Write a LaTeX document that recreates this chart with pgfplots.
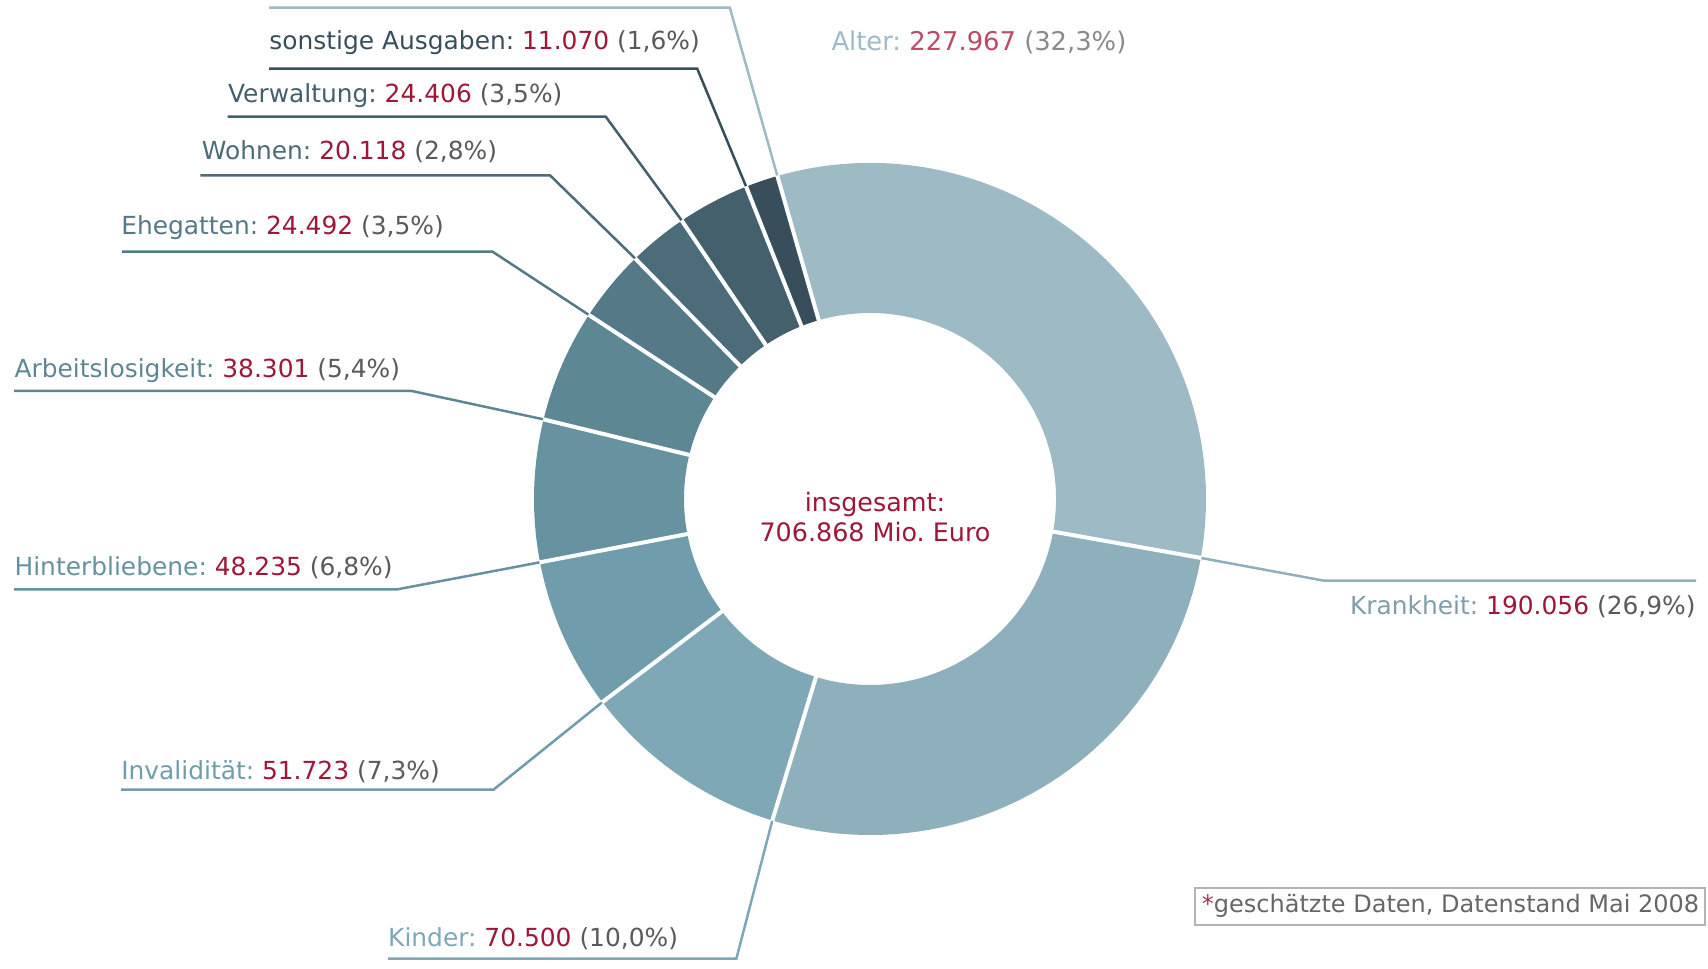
\documentclass[border=0pt]{standalone}
\usepackage{pgfplots}
\pgfplotsset{compat=1.18}
\usepackage{fontspec}
\setmainfont{DejaVu Sans}
\frenchspacing
\definecolor{s1}{HTML}{9DBAC5}
\definecolor{s2}{HTML}{8EB0BC}
\definecolor{s3}{HTML}{7FA8B6}
\definecolor{s4}{HTML}{6F9DAC}
\definecolor{s5}{HTML}{67929F}
\definecolor{s6}{HTML}{5E8794}
\definecolor{s7}{HTML}{557987}
\definecolor{s8}{HTML}{4B6C78}
\definecolor{s9}{HTML}{43606C}
\definecolor{s10}{HTML}{384F5B}
\definecolor{numred}{HTML}{9E1736}
\definecolor{pctgray}{HTML}{5A5A5A}
\definecolor{numredlight}{HTML}{BE4A64}
\definecolor{pctgraylight}{HTML}{8A8A8A}
\definecolor{boxgray}{HTML}{B4B4B4}
\definecolor{footgray}{HTML}{666666}
\definecolor{starred}{HTML}{B03050}
\begin{document}
\begin{tikzpicture}
\begin{axis}[x=0.5pt,y=0.5pt,xmin=0,xmax=1708,ymin=0,ymax=969,hide axis,clip=false]
\coordinate (LL) at (axis cs:0,0);
\coordinate (UR) at (axis cs:1708,969);
\def\cx{870}\def\cy{470}
\def\Ro{168pt}\def\Ri{93pt}
% slices: value (thousand Mio. Euro) / colour
\xdef\startang{106}
\foreach \v/\col in {227.967/s1, 190.056/s2, 70.500/s3, 51.723/s4, 48.235/s5, 38.301/s6, 24.492/s7, 20.118/s8, 24.406/s9, 11.070/s10} {
  \pgfmathsetmacro{\endang}{\startang-360*(\v/706.868)}
  \edef\temp{\noexpand\fill[\col] ([shift={(\startang:\Ro)}]axis cs:\cx,\cy) arc[start angle=\startang, end angle=\endang, radius=\Ro] -- ([shift={(\endang:\Ri)}]axis cs:\cx,\cy) arc[start angle=\endang, end angle=\startang, radius=\Ri] -- cycle;}
  \temp
  \xdef\startang{\endang}
}
% separators and leader lines: value / colour / line y / line end x / corner x
\xdef\startang{106}
\foreach \v/\col/\ly/\lx/\cornx in {227.967/s1/961.4/269/729.8, 190.056/s2/388.4/1696/1323.5, 70.500/s3/10.4/387.8/736.4, 51.723/s4/179.3/121/493.5, 48.235/s5/379.7/14.2/397.6, 38.301/s6/578/14.2/411.8, 24.492/s7/717.4/122/492.4, 20.118/s8/793.6/200.4/550.1, 24.406/s9/852.4/227.7/605.7, 11.070/s10/900.4/269/697.2} {
  \pgfmathsetmacro{\endang}{\startang-360*(\v/706.868)}
  \edef\temp{\noexpand\draw[white, line width=2pt] ([shift={(\startang:92pt)}]axis cs:\cx,\cy) -- ([shift={(\startang:168.3pt)}]axis cs:\cx,\cy);
  \noexpand\draw[\col, line width=1.25pt] ([shift={(\startang:168.3pt)}]axis cs:\cx,\cy) -- (axis cs:\cornx,\ly) -- (axis cs:\lx,\ly);}
  \temp
  \xdef\startang{\endang}
}
\tikzset{lab/.style={inner sep=0pt, font=\fontsize{12.45}{15}\selectfont}}
\node[inner sep=0pt, font=\fontsize{12.9}{15}\selectfont, anchor=west] at (axis cs:831.1,926.7) {\textcolor{s1}{Alter:} \textcolor{numredlight}{227.967} \textcolor{pctgraylight}{(32,3\%)}};
\node[lab, anchor=east] at (axis cs:1696,362.4) {\textcolor{s2!90!black}{Krankheit:} \textcolor{numred}{190.056} \textcolor{pctgray}{(26,9\%)}};
\node[lab, anchor=west] at (axis cs:387.8,30.2) {\textcolor{s3}{Kinder:} \textcolor{numred}{70.500} \textcolor{pctgray}{(10,0\%)}};
\node[lab, anchor=west] at (axis cs:120.9,196.9) {\textcolor{s4}{Invalidität:} \textcolor{numred}{51.723} \textcolor{pctgray}{(7,3\%)}};
\node[lab, anchor=west] at (axis cs:14.2,401.7) {\textcolor{s5}{Hinterbliebene:} \textcolor{numred}{48.235} \textcolor{pctgray}{(6,8\%)}};
\node[lab, anchor=west] at (axis cs:14.2,598.8) {\textcolor{s6}{Arbeitslosigkeit:} \textcolor{numred}{38.301} \textcolor{pctgray}{(5,4\%)}};
\node[lab, anchor=west] at (axis cs:120.9,741.5) {\textcolor{s7}{Ehegatten:} \textcolor{numred}{24.492} \textcolor{pctgray}{(3,5\%)}};
\node[lab, anchor=west] at (axis cs:201.5,817.8) {\textcolor{s8}{Wohnen:} \textcolor{numred}{20.118} \textcolor{pctgray}{(2,8\%)}};
\node[lab, anchor=west] at (axis cs:227.7,873.3) {\textcolor{s9}{Verwaltung:} \textcolor{numred}{24.406} \textcolor{pctgray}{(3,5\%)}};
\node[lab, anchor=west] at (axis cs:269,926.7) {\textcolor{s10}{sonstige Ausgaben:} \textcolor{numred}{11.070} \textcolor{pctgray}{(1,6\%)}};
% centre text
\node[align=center, inner sep=0pt, text=numred, font=\fontsize{12.7}{14.6}\selectfont] at (axis cs:875,452) {insgesamt:\\706.868 Mio. Euro};
% footnote
\draw[boxgray, line width=0.75pt] (axis cs:1195,44.2) rectangle (axis cs:1705,81.2);
\node[anchor=west, inner sep=0pt, text=footgray, font=\fontsize{12}{14}\selectfont] at (axis cs:1201.5,62.7) {\textcolor{starred}{*}geschätzte Daten, Datenstand Mai 2008};
\end{axis}
\pgfresetboundingbox
\path[use as bounding box] (LL) rectangle (UR);
\end{tikzpicture}
\end{document}
